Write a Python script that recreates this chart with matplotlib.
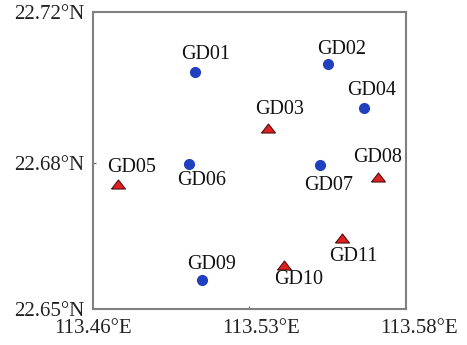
import matplotlib.pyplot as plt
import matplotlib.transforms as mtransforms

# station names, coordinates (lon, lat) and type
names = ["GD01", "GD02", "GD03", "GD04", "GD05", "GD06",
         "GD07", "GD08", "GD09", "GD10", "GD11"]
lons = [113.4992, 113.5503, 113.5272, 113.5640, 113.4697, 113.4967,
        113.5469, 113.5695, 113.5018, 113.5332, 113.5554]
lats = [22.7059, 22.7077, 22.6927, 22.6974, 22.6794, 22.6842,
        22.6839, 22.6812, 22.6568, 22.6604, 22.6667]
kinds = ["c", "c", "t", "c", "t", "c", "c", "t", "c", "t", "t"]
# label offsets in pixels (dx, dy)
offsets = [(10, 17), (13, 15), (11, 18), (8, 17), (13, 17), (13, -17),
           (9, -20), (-1, 19), (10, 16), (15, -15), (12, -18)]

xticks = [113.46, 113.52, 113.58]
xticklabels = ["113.46°E", "113.53°E", "113.58°E"]
yticks = [22.65, 22.6844, 22.72]
yticklabels = ["22.65°N", "22.68°N", "22.72°N"]

plt.rcParams['font.family'] = ['Liberation Serif', 'DejaVu Serif']

fig = plt.figure(figsize=(4.67, 3.45), dpi=100)
ax = fig.add_axes([0.199, 0.104, 0.670, 0.861])

tri = [(-1, -0.65), (1, -0.65), (0, 0.65), (-1, -0.65)]
for name, x, y, k, off in zip(names, lons, lats, kinds, offsets):
    if k == "c":
        ax.plot(x, y, marker="o", ms=7, color="#2040c0", mec="#2040c0", ls="none")
    else:
        ax.plot(x, y, marker=tri, ms=10, color="#e02020", mec="#501010", mew=0.8, ls="none")
    ax.annotate(name, (x, y), xytext=off, textcoords="offset pixels",
                ha="center", va="center", fontsize=14.5, color="#111111")

ax.set_xlim(113.46, 113.58)
ax.set_ylim(22.65, 22.72)
ax.set_xticks(xticks)
ax.set_xticklabels(xticklabels)
ax.set_yticks(yticks)
ax.set_yticklabels(yticklabels)
ax.tick_params(direction="in", length=2, color="#666666", labelsize=15,
               labelcolor="#222222")
ax.tick_params(axis="x", pad=7)
ax.tick_params(axis="y", pad=6)
for s in ax.spines.values():
    s.set_color("#808080")
    s.set_linewidth(1.5)

# the reference places the middle and right x labels slightly to the right
for lab, dx in zip(ax.get_xticklabels(), [0, 12, 13]):
    lab.set_transform(lab.get_transform() +
                      mtransforms.ScaledTranslation(dx / 100, 0, fig.dpi_scale_trans))

fig.savefig("out.png", dpi=100)
